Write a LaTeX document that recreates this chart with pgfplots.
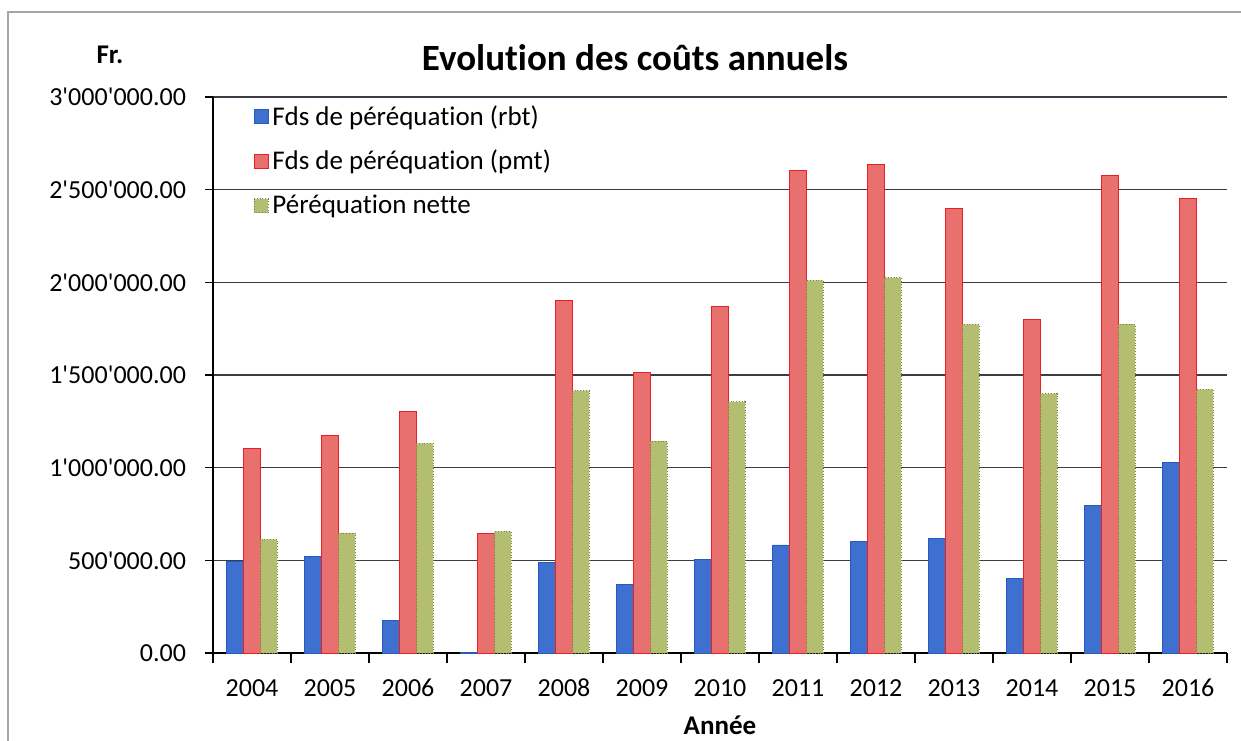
\documentclass[border=0pt]{standalone}
\usepackage{fontspec}
\setmainfont{Carlito}[Ligatures={TeX,NoCommon}]
\usepackage{pgfplots}
\pgfplotsset{compat=1.18}

\definecolor{cBlue}{RGB}{62,112,208}
\definecolor{cBlueE}{RGB}{40,90,190}
\definecolor{cRed}{RGB}{232,112,110}
\definecolor{cRedE}{RGB}{235,30,35}
\definecolor{cGreen}{RGB}{180,190,112}
\definecolor{cGreenE}{RGB}{120,128,70}
\definecolor{cGrid}{RGB}{60,60,70}

\begin{document}
\begin{tikzpicture}
  % page = 1241 x 741 px at 0.5bp per px, axis box south west at (0,0)
  \useasboundingbox (-106.5bp,-44bp) rectangle (514bp,326.5bp);
  \draw[gray!70, line width=0.8pt] (-102.5bp,-44bp) -- (-102.5bp,320.5bp) -- (514bp,320.5bp);

  \begin{axis}[
      scale only axis,
      width=507bp, height=278bp,
      xmin=-0.5, xmax=12.5,
      ymin=0, ymax=3000000,
      scaled y ticks=false,
      ybar=0pt,
      bar width=0.215,
      axis lines*=left,
      axis line style={black, line width=0.7pt},
      xtick={0,...,12},
      xticklabels={2004,2005,2006,2007,2008,2009,2010,2011,2012,2013,2014,2015,2016},
      major x tick style={draw=none},
      minor xtick={-0.5,0.5,...,12.5},
      minor x tick style={black, line width=0.7pt},
      minor tick length=5bp,
      xtick align=outside,
      ytick={0,500000,...,3000000},
      yticklabels={0.00,500\textquotesingle000.00,1\textquotesingle000\textquotesingle000.00,1\textquotesingle500\textquotesingle000.00,2\textquotesingle000\textquotesingle000.00,2\textquotesingle500\textquotesingle000.00,3\textquotesingle000\textquotesingle000.00},
      ytick align=outside,
      major tick length=4bp,
      ytick style={black, line width=0.6pt},
      ymajorgrids,
      grid style={cGrid, line width=0.8pt},
      tick label style={font=\fontsize{13bp}{15bp}\selectfont},
      xticklabel style={yshift=-5bp, text height=9bp, text depth=1bp},
      yticklabel style={xshift=-6bp},
      legend style={at={(0.034,1.0)}, anchor=north west, draw=none, fill=none,
        font=\fontsize{13.5bp}{15bp}\selectfont, row sep=7bp,
        legend cell align=left},
      legend image code/.code={\draw[#1, line width=0.3pt] (0bp,-3.5bp) rectangle (7bp,3.5bp);},
    ]
    \addplot[fill=cBlue, draw=cBlueE, line width=0.4pt] coordinates {
      (0,493000) (1,520000) (2,175000) (3,5000) (4,491000) (5,372000) (6,507000)
      (7,583000) (8,600000) (9,617000) (10,402000) (11,796000) (12,1030000)};
    \addplot[fill=cRed, draw=cRedE, line width=0.4pt] coordinates {
      (0,1102000) (1,1172000) (2,1304000) (3,644000) (4,1902000) (5,1515000) (6,1870000)
      (7,2602000) (8,2635000) (9,2398000) (10,1802000) (11,2575000) (12,2452000)};
    \addplot[fill=cGreen, draw=cGreenE, line width=0.4pt, densely dotted] coordinates {
      (0,613000) (1,648000) (2,1131000) (3,656000) (4,1416000) (5,1143000) (6,1355000)
      (7,2010000) (8,2025000) (9,1773000) (10,1400000) (11,1775000) (12,1423000)};
    \legend{Fds de péréquation (rbt), Fds de péréquation (pmt), Péréquation nette}
  \end{axis}

  \node[font=\bfseries\fontsize{18.5bp}{21bp}\selectfont] at (211bp,297.5bp) {Evolution des coûts annuels};
  \node[font=\bfseries\fontsize{13.5bp}{15bp}\selectfont] at (-51.5bp,299bp) {Fr.};
  \node[font=\bfseries\fontsize{13.5bp}{15bp}\selectfont] at (253.5bp,-36bp) {Année};
\end{tikzpicture}
\end{document}
